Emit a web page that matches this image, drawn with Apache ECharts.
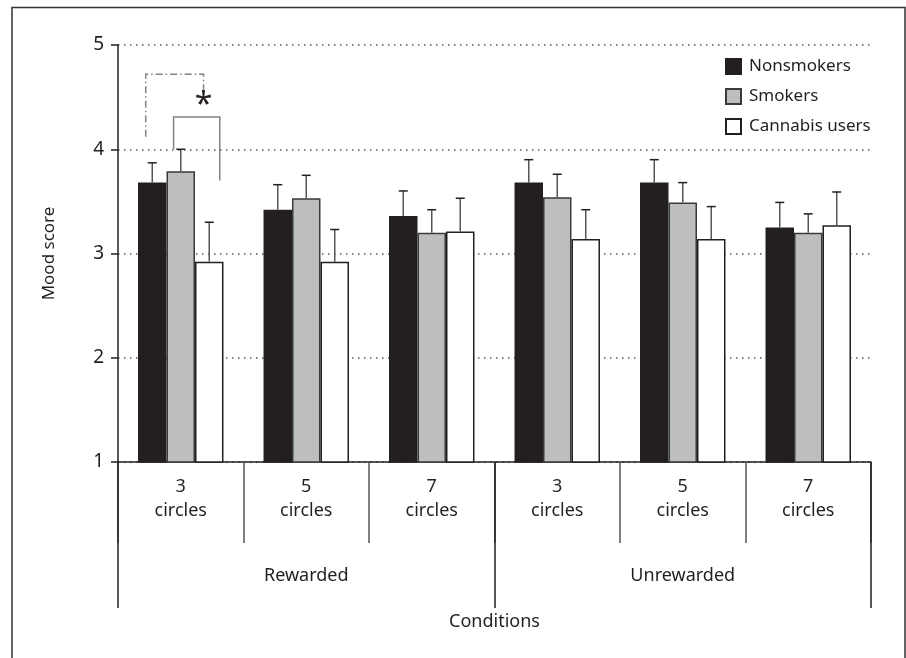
<!DOCTYPE html>
<html>
<head>
<meta charset="utf-8">
<script src="https://cdn.jsdelivr.net/npm/echarts@6/dist/echarts.min.js"></script>
<style>html,body{margin:0;padding:0;background:#fff;}#c{width:906px;height:658px;}</style>
</head>
<body>
<div id="c"></div>
<script>
// ---- data ----
const categories = ['3\ncircles', '5\ncircles', '7\ncircles', '3\ncircles', '5\ncircles', '7\ncircles'];
const groups = ['Rewarded', 'Unrewarded'];
const seriesNames = ['Nonsmokers', 'Smokers', 'Cannabis users'];
const nonsmokers    = [3.68, 3.42, 3.36, 3.68, 3.68, 3.25];
const nonsmokersErr = [3.87, 3.66, 3.60, 3.90, 3.90, 3.49];
const smokers       = [3.79, 3.53, 3.20, 3.54, 3.49, 3.20];
const smokersErr    = [4.00, 3.75, 3.42, 3.76, 3.68, 3.38];
const cannabis      = [2.92, 2.92, 3.21, 3.14, 3.14, 3.27];
const cannabisErr   = [3.30, 3.23, 3.53, 3.42, 3.45, 3.59];
const yTicks = [1, 2, 3, 4, 5];
// significance brackets: category index, left/right offsets (in bar widths from category centre), y values
const brackets = [
  { cat: 0, left: -0.25, right: 1.37, yLeft: 4.00, yTop: 4.31, yRight: 3.70, dash: null },
  { cat: 0, left: -1.23, right: 0.80, yLeft: 4.12, yTop: 4.72, yRight: 4.57, dash: [7, 3, 1.5, 3] }
];
const starMark = { cat: 0, offset: 0.80, y: 4.42, text: '*' };

// ---- style ----
const FONT = 'Noto Sans';
const INK = '#231f20';
const fills = ['#231f20', '#bcbec0', '#ffffff'];
const BAR_FRAC = 0.227;

const values = [nonsmokers, smokers, cannabis];
const errs = [nonsmokersErr, smokersErr, cannabisErr];

const chart = echarts.init(document.getElementById('c'), null, { renderer: 'canvas' });

const barSeries = seriesNames.map((n, i) => ({
  name: n,
  type: 'bar',
  xAxisIndex: 0,
  yAxisIndex: 0,
  data: values[i],
  barWidth: (BAR_FRAC * 100) + '%',
  barGap: '0%',
  itemStyle: { color: fills[i], borderColor: i === 1 ? '#3a3a3c' : INK, borderWidth: 1.5 },
  emphasis: { disabled: true },
  z: 2
}));

const errData = [];
for (let s = 0; s < 3; s++) {
  for (let c = 0; c < categories.length; c++) {
    errData.push([c, values[s][c], errs[s][c], s]);
  }
}

const errSeries = {
  type: 'custom',
  name: 'err',
  xAxisIndex: 0,
  yAxisIndex: 0,
  data: errData,
  encode: { x: 0, y: 2 },
  z: 3,
  silent: true,
  renderItem: function (params, api) {
    const c = api.value(0), v = api.value(1), e = api.value(2), s = api.value(3);
    const band = api.size([1, 0])[0];
    const bw = band * BAR_FRAC;
    const base = api.coord([c, v]);
    const top = api.coord([c, e]);
    const x = base[0] + (s - 1) * bw;
    const cap = 4.5;
    return {
      type: 'group',
      children: [
        { type: 'line', shape: { x1: x, y1: base[1], x2: x, y2: top[1] }, style: { stroke: '#555', lineWidth: 1.5 } },
        { type: 'line', shape: { x1: x - cap, y1: top[1], x2: x + cap, y2: top[1] }, style: { stroke: INK, lineWidth: 1.5 } }
      ]
    };
  }
};

const bracketSeries = {
  type: 'custom',
  name: 'sig',
  xAxisIndex: 0,
  yAxisIndex: 0,
  data: brackets.map((b, i) => [b.cat, b.yTop, i]),
  encode: { x: 0, y: 1 },
  z: 4,
  silent: true,
  renderItem: function (params, api) {
    const b = brackets[api.value(2)];
    const band = api.size([1, 0])[0];
    const bw = band * BAR_FRAC;
    const cx = api.coord([b.cat, b.yTop])[0];
    const xl = cx + b.left * bw, xr = cx + b.right * bw;
    const yl = api.coord([b.cat, b.yLeft])[1];
    const yt = api.coord([b.cat, b.yTop])[1];
    const yr = api.coord([b.cat, b.yRight])[1];
    const children = [{
      type: 'polyline',
      shape: { points: [[xl, yl], [xl, yt], [xr, yt], [xr, yr]] },
      style: { stroke: '#808285', lineWidth: 1.5, fill: null, lineDash: b.dash || null }
    }];
    if (api.value(2) === 0) {
      const sp = api.coord([starMark.cat, starMark.y]);
      children.push({
        type: 'text',
        x: sp[0] + starMark.offset * bw,
        y: sp[1],
        style: { text: starMark.text, fill: INK, font: 'normal 32px ' + FONT, align: 'center', verticalAlign: 'middle' }
      });
    }
    return { type: 'group', children: children };
  }
};

const option = {
  backgroundColor: '#ffffff',
  animation: false,
  textStyle: { fontFamily: FONT, color: INK },
  grid: { left: 118, right: 35, top: 45, bottom: 196, containLabel: false },
  legend: {
    data: seriesNames,
    orient: 'vertical',
    left: 725,
    top: 58,
    itemWidth: 15,
    itemHeight: 15,
    itemGap: 13,
    padding: 0,
    icon: 'rect',
    textStyle: { fontFamily: FONT, fontSize: 17, color: INK, padding: [0, 0, 0, 3] },
    selectedMode: false
  },
  xAxis: [
    {
      type: 'category',
      data: categories,
      position: 'bottom',
      boundaryGap: true,
      axisLine: { show: true, lineStyle: { color: INK, width: 1.5 } },
      axisTick: { show: true, interval: 0, length: 81, lineStyle: { color: '#555', width: 1.5 } },
      axisLabel: { interval: 0, margin: 13, fontFamily: FONT, fontSize: 18, color: INK, lineHeight: 24 },
      splitLine: { show: false }
    },
    {
      type: 'category',
      data: groups,
      position: 'bottom',
      gridIndex: 0,
      boundaryGap: true,
      axisLine: { show: false },
      axisTick: { show: true, interval: 0, length: 146, lineStyle: { color: INK, width: 1.5 } },
      axisLabel: { interval: 0, margin: 104, fontFamily: FONT, fontSize: 18, color: INK, lineHeight: 20 },
      name: 'Conditions',
      nameLocation: 'middle',
      nameGap: 151,
      nameTextStyle: { fontFamily: FONT, fontSize: 18, color: INK },
      splitLine: { show: false }
    }
  ],
  yAxis: {
    type: 'value',
    min: yTicks[0],
    max: yTicks[yTicks.length - 1],
    interval: 1,
    name: 'Mood score',
    nameLocation: 'middle',
    nameRotate: 90,
    nameGap: 60,
    nameTextStyle: { fontFamily: FONT, fontSize: 17, color: INK },
    axisLine: { show: true, lineStyle: { color: INK, width: 1.5 } },
    axisTick: { show: true, length: 7, inside: false, lineStyle: { color: INK, width: 1.5 } },
    axisLabel: { margin: 14, fontFamily: FONT, fontSize: 19, color: INK },
    splitLine: { show: true, lineStyle: { color: '#58595b', width: 1.5, type: [1.5, 4.5] } }
  },
  graphic: [
    {
      type: 'polyline',
      shape: { points: [[12, 658], [12, 7.5], [905, 7.5], [905, 658]] },
      style: { stroke: '#333', lineWidth: 1.5, fill: null },
      silent: true
    }
  ],
  series: barSeries.concat([errSeries, bracketSeries])
};

chart.setOption(option);
</script>
</body>
</html>
